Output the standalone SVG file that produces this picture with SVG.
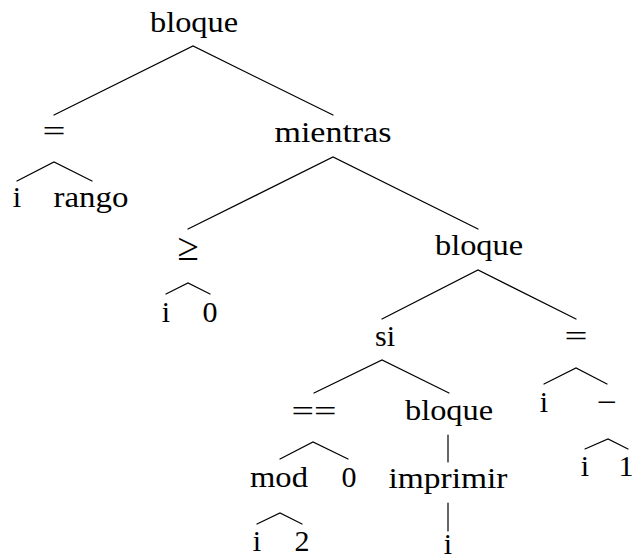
<svg xmlns="http://www.w3.org/2000/svg" width="633" height="556" viewBox="0 0 633 556">
  <style>
    .lbl { font-family: 'Liberation Serif', 'DejaVu Serif', 'Noto Serif', 'Times New Roman', Times, serif; font-size: 30px; fill: #000; text-anchor: middle; }
    .edge { stroke: #000; stroke-width: 1.2; fill: none; stroke-linecap: round; }
  </style>
  <rect width="633" height="556" fill="#fff"/>

  <!-- tree edges -->
  <g id="edges">
    <path class="edge" d="M54,115 L193,46 L333,115"/>
    <path class="edge" d="M17,181 L54,162 L92,181"/>
    <path class="edge" d="M188,229 L333,157 L478,229"/>
    <path class="edge" d="M166,294 L188,283 L210,294"/>
    <path class="edge" d="M382,319 L478,270 L576,319"/>
    <path class="edge" d="M314,393 L382,360 L449,393"/>
    <path class="edge" d="M544,384 L576,368 L607,384"/>
    <path class="edge" d="M280,459 L313,442 L348,459"/>
    <path class="edge" d="M448,435 L448,462"/>
    <path class="edge" d="M585,449 L608,439 L628,449"/>
    <path class="edge" d="M257,524 L280,513 L302,524"/>
    <path class="edge" d="M448,503 L448,531"/>
  </g>

  <!-- nodes -->
  <g id="n-bloque-root"><text class="lbl" x="194" y="32" textLength="88" lengthAdjust="spacingAndGlyphs">bloque</text></g>
  <g id="n-asig1"><text class="lbl" x="54" y="141" textLength="23" lengthAdjust="spacingAndGlyphs">=</text></g>
  <g id="n-asig1-i"><text class="lbl" x="17" y="207">i</text></g>
  <g id="n-rango"><text class="lbl" x="91" y="207" textLength="75" lengthAdjust="spacingAndGlyphs">rango</text></g>
  <g id="n-mientras"><text class="lbl" x="333" y="142" textLength="117" lengthAdjust="spacingAndGlyphs">mientras</text></g>
  <g id="n-geq"><text class="lbl" transform="translate(188 260) scale(1.3)" x="0" y="0">≥</text></g>
  <g id="n-geq-i"><text class="lbl" x="166" y="322">i</text></g>
  <g id="n-geq-0"><text class="lbl" x="210" y="322">0</text></g>
  <g id="n-bloque-loop"><text class="lbl" x="479" y="255" textLength="88" lengthAdjust="spacingAndGlyphs">bloque</text></g>
  <g id="n-si"><text class="lbl" x="385" y="346">si</text></g>
  <g id="n-asig2"><text class="lbl" x="576" y="346" textLength="23" lengthAdjust="spacingAndGlyphs">=</text></g>
  <g id="n-eq"><text class="lbl" x="314" y="421" textLength="45" lengthAdjust="spacingAndGlyphs">==</text></g>
  <g id="n-bloque-si"><text class="lbl" x="449" y="420" textLength="88" lengthAdjust="spacingAndGlyphs">bloque</text></g>
  <g id="n-asig2-i"><text class="lbl" x="544" y="412">i</text></g>
  <g id="n-minus"><text class="lbl" x="607" y="412" textLength="20" lengthAdjust="spacingAndGlyphs">−</text></g>
  <g id="n-mod"><text class="lbl" x="279" y="487" textLength="58" lengthAdjust="spacingAndGlyphs">mod</text></g>
  <g id="n-eq-0"><text class="lbl" x="349" y="487">0</text></g>
  <g id="n-imprimir"><text class="lbl" x="448" y="488" textLength="119" lengthAdjust="spacingAndGlyphs">imprimir</text></g>
  <g id="n-minus-i"><text class="lbl" x="585" y="476">i</text></g>
  <g id="n-minus-1"><text class="lbl" x="626" y="476">1</text></g>
  <g id="n-mod-i"><text class="lbl" x="257" y="551">i</text></g>
  <g id="n-mod-2"><text class="lbl" x="302" y="551">2</text></g>
  <g id="n-imprimir-i"><text class="lbl" x="448" y="554">i</text></g>
</svg>
